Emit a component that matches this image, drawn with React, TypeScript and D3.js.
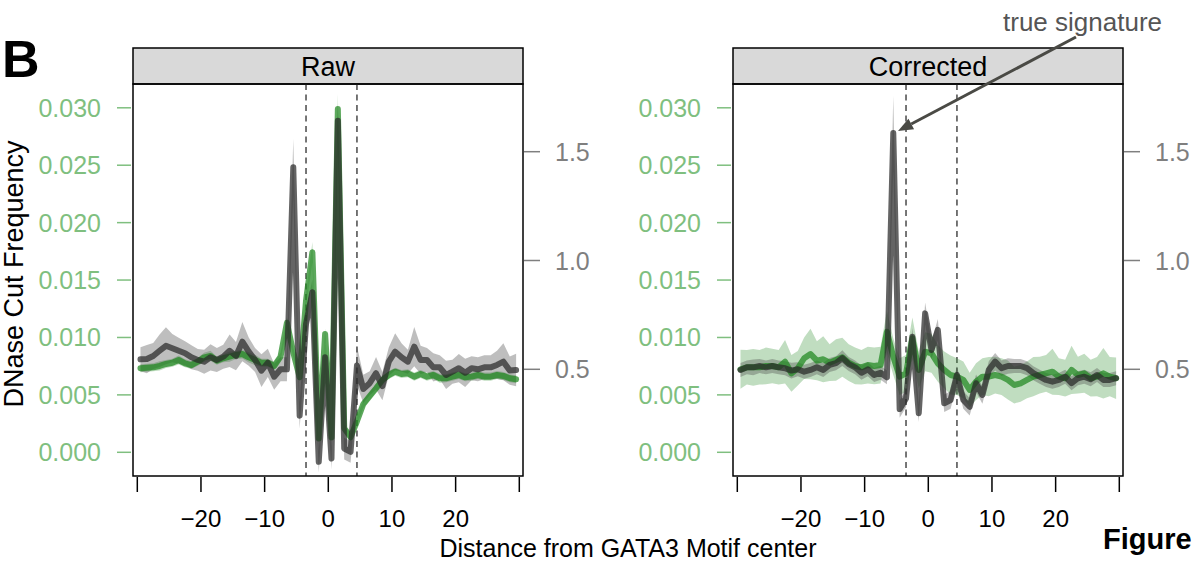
import React from 'react';
import * as d3 from 'd3';

// x positions (bp from motif center)
const positions: number[] = d3.range(60).map((i) => -29.5 + i);

// Raw panel
const rawGreen = [0.00732,0.00737,0.0074,0.00752,0.00769,0.0078,0.00804,0.00775,0.0076,0.00789,
  0.00827,0.00839,0.00798,0.00819,0.00833,0.00848,0.00856,0.00827,0.00804,0.0078,
  0.0078,0.00752,0.00833,0.01128,0.0087,0.00653,0.0132,0.01742,0.0012,0.0103,
  0.0013,0.0299,0.0021,0.00131,0.0027,0.0042,0.0049,0.00557,0.0063,0.00673,
  0.00702,0.00682,0.00688,0.00659,0.00682,0.00659,0.00673,0.00645,0.00645,0.00659,
  0.00673,0.00653,0.00659,0.00673,0.00659,0.00659,0.00673,0.00665,0.00645,0.00636];
const rawGreenSe = [0.00035,0.00035,0.00035,0.0004,0.00035,0.00035,0.0004,0.00035,0.00035,0.00035,
  0.0004,0.00045,0.00035,0.00035,0.00045,0.00035,0.0004,0.00045,0.00045,0.00035,
  0.00035,0.00035,0.00035,0.0005,0.0004,0.00035,0.0006,0.0009,0.00035,0.0005,
  0.00035,0.0013,0.00035,0.00035,0.00035,0.00035,0.00035,0.00035,0.00035,0.00035,
  0.00035,0.00035,0.00035,0.00035,0.00035,0.00035,0.00035,0.0004,0.00035,0.00035,
  0.00035,0.00035,0.00035,0.00035,0.00035,0.00035,0.00035,0.00035,0.00035,0.00035];
const rawGray = [0.546,0.547,0.561,0.585,0.608,0.597,0.585,0.574,0.555,0.543,
  0.535,0.555,0.543,0.558,0.585,0.561,0.627,0.581,0.543,0.494,
  0.530,0.466,0.500,0.500,1.428,0.287,0.708,0.854,0.075,0.555,
  0.090,1.642,0.136,0.121,0.517,0.410,0.436,0.482,0.423,0.535,
  0.581,0.555,0.535,0.604,0.543,0.543,0.509,0.509,0.474,0.489,
  0.505,0.484,0.505,0.500,0.509,0.509,0.520,0.535,0.494,0.497];
const rawGraySe = [0.055,0.065,0.06,0.075,0.085,0.065,0.06,0.055,0.055,0.05,
  0.055,0.06,0.055,0.055,0.075,0.065,0.09,0.065,0.055,0.075,
  0.065,0.06,0.055,0.055,0.13,0.06,0.06,0.06,0.05,0.06,
  0.05,0.08,0.05,0.05,0.09,0.065,0.055,0.075,0.065,0.065,
  0.085,0.065,0.055,0.09,0.065,0.055,0.065,0.055,0.065,0.055,
  0.065,0.065,0.055,0.055,0.055,0.055,0.065,0.085,0.065,0.075];

// Corrected panel
const corGreen = [0.00723,0.0074,0.0074,0.0074,0.00752,0.00752,0.0074,0.00789,0.00688,0.00732,
  0.00819,0.00856,0.00798,0.0081,0.0078,0.00804,0.00827,0.0078,0.00752,0.0074,
  0.0076,0.00752,0.0076,0.0105,0.00833,0.00659,0.00688,0.00993,0.00717,0.00876,
  0.00862,0.00775,0.00717,0.00673,0.00659,0.0063,0.00543,0.00615,0.00659,0.00659,
  0.00673,0.00659,0.0063,0.00586,0.00601,0.0063,0.00659,0.00673,0.00688,0.00702,
  0.00659,0.00645,0.00717,0.00673,0.00688,0.00645,0.00659,0.00688,0.00659,0.00645];
const corGreenSe = [0.0017,0.0015,0.0016,0.0015,0.0016,0.0015,0.0015,0.0019,0.0016,0.0015,
  0.0018,0.0022,0.0017,0.002,0.0016,0.0018,0.0017,0.0016,0.0016,0.0015,
  0.0016,0.0016,0.0016,0.0018,0.0016,0.0016,0.0016,0.0018,0.0016,0.0017,
  0.0017,0.0016,0.0016,0.0017,0.0016,0.0016,0.0015,0.0016,0.0016,0.0017,
  0.0016,0.0016,0.0017,0.0016,0.0016,0.0016,0.0017,0.0016,0.0016,0.002,
  0.0016,0.0016,0.0021,0.0016,0.0017,0.0016,0.0017,0.0022,0.0017,0.0018];
const corGray = [0.497,0.509,0.509,0.515,0.509,0.515,0.509,0.505,0.494,0.500,
  0.489,0.497,0.509,0.497,0.520,0.528,0.551,0.524,0.509,0.484,
  0.500,0.474,0.484,0.463,1.586,0.317,0.366,0.650,0.298,0.757,
  0.589,0.681,0.344,0.359,0.474,0.359,0.328,0.436,0.382,0.497,
  0.535,0.505,0.515,0.515,0.515,0.505,0.482,0.466,0.451,0.443,
  0.451,0.466,0.436,0.459,0.466,0.454,0.474,0.451,0.451,0.459];
const corGraySe = [0.032,0.032,0.036,0.032,0.032,0.032,0.032,0.032,0.036,0.032,
  0.032,0.032,0.032,0.032,0.032,0.032,0.036,0.032,0.032,0.032,
  0.032,0.032,0.032,0.032,0.17,0.04,0.04,0.04,0.04,0.05,
  0.04,0.05,0.04,0.04,0.04,0.04,0.04,0.04,0.04,0.04,
  0.04,0.036,0.036,0.032,0.032,0.032,0.032,0.032,0.032,0.032,
  0.032,0.032,0.032,0.032,0.032,0.032,0.032,0.032,0.032,0.032];

const xTicks = [-30, -20, -10, 0, 10, 20, 30];
const xTickLabels = ['', '\u221220', '\u221210', '0', '10', '20', ''];
const greenTicks = [0, 0.005, 0.01, 0.015, 0.02, 0.025, 0.03];
const greenTickLabels = ['0.000', '0.005', '0.010', '0.015', '0.020', '0.025', '0.030'];
const grayTicks = [0.5, 1.0, 1.5];
const grayTickLabels = ['0.5', '1.0', '1.5'];
const motifBounds = [-3.5, 4.5];
const panelTitles = ['Raw', 'Corrected'];

const FONT = '"Liberation Sans", Arial, Helvetica, sans-serif';
const W = 1197, H = 561;
const PANEL_W = 390;
const TOP = 84, BOTTOM = 476, STRIP_TOP = 48;
const GREEN_TXT = '#7fbf7f';
const GRAY_TXT = '#7f7f7f';

const greenY = d3.scaleLinear().domain([0, 0.03]).range([452.3, 107.8]);
const grayY = d3.scaleLinear().domain([0.5, 1.5]).range([369.3, 151.7]);

function Panel({ left, title, green, greenSe, gray, graySe }: any) {
  const x = d3.scaleLinear().domain([-30, 30]).range([left + 4.3, left + 386.3]);
  const right = left + PANEL_W;
  const pts = positions.map((p, i) => i);
  const greenLine = d3.line<number>().x((i) => x(positions[i])).y((i) => greenY(green[i]));
  const grayLine = d3.line<number>().x((i) => x(positions[i])).y((i) => grayY(gray[i]));
  const greenArea = d3.area<number>().x((i) => x(positions[i]))
    .y0((i) => greenY(green[i] - greenSe[i])).y1((i) => greenY(green[i] + greenSe[i]));
  const grayArea = d3.area<number>().x((i) => x(positions[i]))
    .y0((i) => grayY(gray[i] - graySe[i])).y1((i) => grayY(gray[i] + graySe[i]));
  const clipId = 'clip' + left;
  return (
    <g>
      <defs>
        <clipPath id={clipId}>
          <rect x={left} y={TOP} width={PANEL_W} height={BOTTOM - TOP} />
        </clipPath>
      </defs>
      <rect x={left} y={STRIP_TOP} width={PANEL_W} height={TOP - STRIP_TOP} fill="#d9d9d9" stroke="#000" strokeWidth={1.5} />
      <text x={left + PANEL_W / 2} y={(STRIP_TOP + TOP) / 2 + 1} textAnchor="middle" dominantBaseline="central"
        fontSize={27} fontFamily={FONT} fill="#000">{title}</text>
      <g clipPath={`url(#${clipId})`}>
        {motifBounds.map((b) => (
          <line key={b} x1={x(b)} x2={x(b)} y1={TOP} y2={BOTTOM} stroke="#555" strokeWidth={1.6} strokeDasharray="6,4.5" />
        ))}
        <path d={greenArea(pts) || ''} fill="rgb(60,150,60)" fillOpacity={0.32} />
        <path d={grayArea(pts) || ''} fill="rgb(70,70,70)" fillOpacity={0.35} />
        <path d={greenLine(pts) || ''} fill="none" stroke="rgb(30,135,30)" strokeOpacity={0.72} strokeWidth={6}
          strokeLinejoin="round" strokeLinecap="round" />
        <path d={grayLine(pts) || ''} fill="none" stroke="rgb(40,40,40)" strokeOpacity={0.72} strokeWidth={6}
          strokeLinejoin="round" strokeLinecap="round" />
      </g>
      <rect x={left} y={TOP} width={PANEL_W} height={BOTTOM - TOP} fill="none" stroke="#000" strokeWidth={1.5} />
      {xTicks.map((t, i) => (
        <g key={t}>
          <line x1={x(t)} x2={x(t)} y1={BOTTOM + 1} y2={BOTTOM + 16} stroke="#000" strokeWidth={1.5} />
          <text x={x(t)} y={518} textAnchor="middle" dominantBaseline="central" fontSize={24} fontFamily={FONT} fill="#000">
            {xTickLabels[i]}
          </text>
        </g>
      ))}
      {greenTicks.map((t, i) => (
        <g key={t}>
          <line x1={left - 16} x2={left - 2} y1={greenY(t)} y2={greenY(t)} stroke={GREEN_TXT} strokeWidth={1.5} />
          <text x={left - 32} y={greenY(t)} textAnchor="end" dominantBaseline="central" fontSize={25} fontFamily={FONT} fill={GREEN_TXT}>
            {greenTickLabels[i]}
          </text>
        </g>
      ))}
      {grayTicks.map((t, i) => (
        <g key={t}>
          <line x1={right + 1} x2={right + 17} y1={grayY(t)} y2={grayY(t)} stroke={GRAY_TXT} strokeWidth={1.5} />
          <text x={right + 32} y={grayY(t)} textAnchor="start" dominantBaseline="central" fontSize={25} fontFamily={FONT} fill={GRAY_TXT}>
            {grayTickLabels[i]}
          </text>
        </g>
      ))}
    </g>
  );
}

export default function App() {
  const ax0 = 1076, ay0 = 37, ax1 = 898, ay1 = 131;
  const ang = Math.atan2(ay1 - ay0, ax1 - ax0);
  const headLen = 15, headW = 6;
  const bx = ax1 - headLen * Math.cos(ang), by = ay1 - headLen * Math.sin(ang);
  const px = -Math.sin(ang) * headW, py = Math.cos(ang) * headW;
  return (
    <div style={{ position: 'absolute', left: 0, top: 0, width: W, height: H, background: '#fff' }}>
      <svg width={W} height={H} viewBox={`0 0 ${W} ${H}`} style={{ display: 'block' }}>
        <rect x={0} y={0} width={W} height={H} fill="#fff" />
        <Panel left={133} title={panelTitles[0]} green={rawGreen} greenSe={rawGreenSe} gray={rawGray} graySe={rawGraySe} />
        <Panel left={733} title={panelTitles[1]} green={corGreen} greenSe={corGreenSe} gray={corGray} graySe={corGraySe} />
        <text x={2} y={77} fontSize={52} fontWeight="bold" fontFamily={FONT} fill="#000">B</text>
        <text transform={`translate(14,274) rotate(-90)`} textAnchor="middle" dominantBaseline="central"
          fontSize={27} fontFamily={FONT} fill="#000">DNase Cut Frequency</text>
        <text x={628} y={548} textAnchor="middle" dominantBaseline="central" fontSize={25} fontFamily={FONT} fill="#000">
          Distance from GATA3 Motif center
        </text>
        <text x={1103} y={539} dominantBaseline="central" fontSize={29} fontWeight="bold" fontFamily={FONT} fill="#000">Figure</text>
        <text x={1162} y={22} textAnchor="end" dominantBaseline="central" fontSize={26} fontFamily={FONT} fill="#555">true signature</text>
        <line x1={ax0} y1={ay0} x2={bx} y2={by} stroke="#4a4a45" strokeWidth={3} />
        <polygon points={`${ax1},${ay1} ${bx + px},${by + py} ${bx - px},${by - py}`} fill="#4a4a45" />
      </svg>
    </div>
  );
}
